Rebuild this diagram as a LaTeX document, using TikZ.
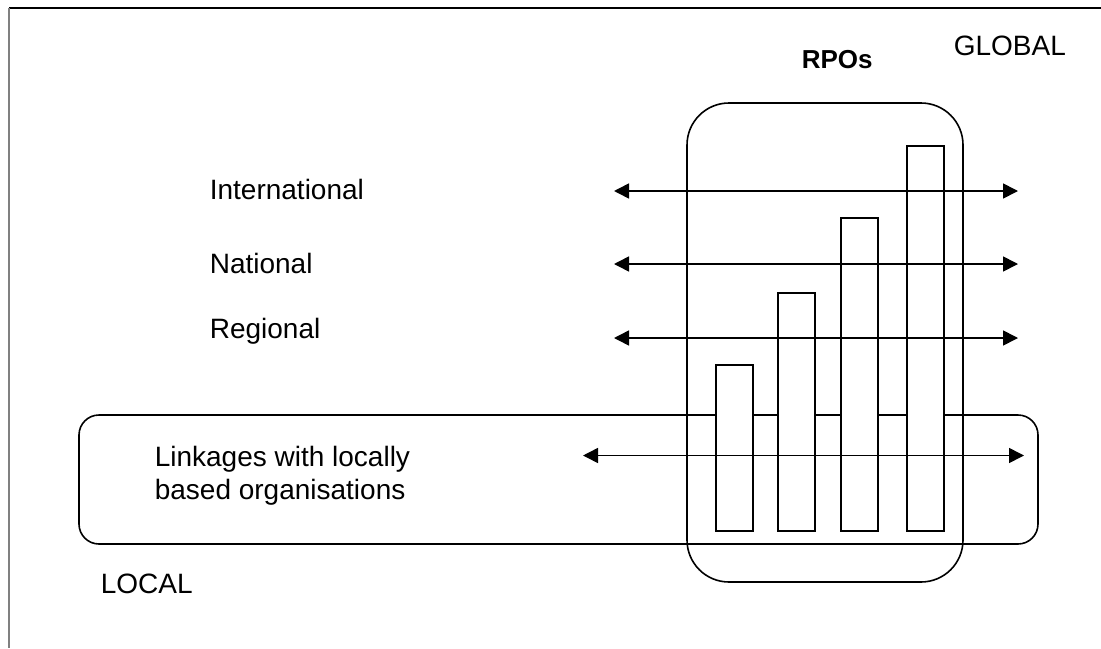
\documentclass[tikz,border=0pt]{standalone}
\usepackage{fontspec}
\setmainfont{Liberation Sans}
\usetikzlibrary{arrows.meta}

\begin{document}
\begin{tikzpicture}[x=0.5pt,y=-0.5pt,>={Triangle[length=7.5pt,width=7.5pt]},line width=0.8pt,
				label text/.style={anchor=base west,inner sep=0pt,font=\fontsize{14}{16.5}\selectfont},
				group box/.style={draw,rounded corners=#1,inner sep=0pt},
				bar/.style={draw,fill=white,anchor=south west,inner sep=0pt,minimum width=18.5pt}]
				
				\useasboundingbox (0,0) rectangle (1101,648);
				\draw (9,8) -- (1101,8);
				\draw[gray] (9,8) -- (9,648);
				
				% the two groups
				\node[group box=21pt,minimum width=138pt,minimum height=239.5pt] (rpo) at (825,342.5) {};
				\node[group box=10pt,minimum width=479.5pt,minimum height=64.5pt] (local) at (558.5,479.5) {};
				
				% bars
				\foreach \n/\x/\h in {1/715/83, 2/777/119, 3/840/156.5, 4/906/192.5}
				\node[bar,minimum height=\h pt] (bar\n) at (\x,532) {};
				
				% linkages
				\foreach \name/\y/\xl/\xr in {int/191/614/1018, nat/264/614/1018, reg/338/614/1018, loc/455.5/583/1024} {
					\coordinate (\name-l) at (\xl,\y);
					\coordinate (\name-r) at (\xr,\y);
					\path (\name-l) edge[<->] (\name-r);
				}
				
				\node[label text] (global) at (953,55) {GLOBAL};
				\node[label text,font=\fontsize{13}{16}\selectfont\bfseries] (rpos) at (801,68) {RPOs};
				\node[label text] (intl) at (209,199) {International};
				\node[label text] (natl) at (209,273) {National};
				\node[label text] (regl) at (209,338) {Regional};
				\node[label text,anchor=north west,align=left] (links) at (154,445.5) {Linkages with locally\\based organisations};
				\node[label text] (locl) at (100,593) {LOCAL};
\end{tikzpicture}
\end{document}
